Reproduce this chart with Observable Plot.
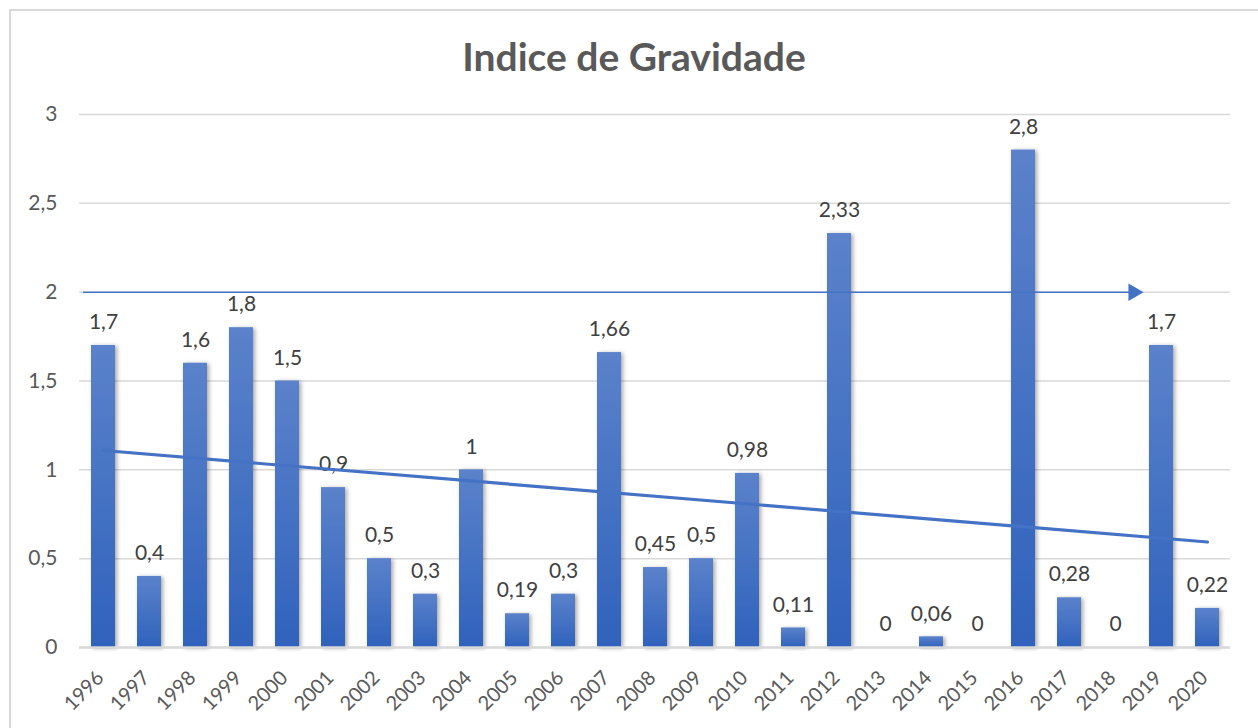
<!DOCTYPE html>
<html><head><meta charset="utf-8">
<script src="https://cdn.jsdelivr.net/npm/d3@7"></script>
<script src="https://cdn.jsdelivr.net/npm/@observablehq/plot@0.6"></script>
<style>
body{margin:0;background:#fff;}
#wrap{position:relative;width:1258px;height:728px;overflow:hidden;font-family:Lato, sans-serif;background:#fff;}
#frame{position:absolute;left:9px;top:9px;width:1300px;height:800px;border:2px solid #d9d9d9;box-sizing:border-box;}
#title{position:absolute;top:32px;left:0;width:1268px;text-align:center;font-size:39px;line-height:48px;font-weight:bold;color:#595959;}
#chart{position:absolute;left:0;top:0;}
</style></head><body>
<div id="wrap"><div id="frame"></div><div id="chart"></div><div id="title">Indice de Gravidade</div></div>
<script>
const years = ["1996","1997","1998","1999","2000","2001","2002","2003","2004","2005","2006","2007","2008","2009","2010","2011","2012","2013","2014","2015","2016","2017","2018","2019","2020"];
const values = [1.7,0.4,1.6,1.8,1.5,0.9,0.5,0.3,1,0.19,0.3,1.66,0.45,0.5,0.98,0.11,2.33,0,0.06,0,2.8,0.28,0,1.7,0.22];
const yTicks = [0,0.5,1,1.5,2,2.5,3];
const arrowLevel = 2;
const arrowFrom = "1996";
const arrowTo = "2018";

const fmt = v => String(v).replace(".", ",");
const data = years.map((y, i) => ({year: y, value: values[i]}));

// linear trendline (least squares over year index), like Excel's
const n = values.length;
const idx = values.map((_, i) => i + 1);
const mx = d3.mean(idx), my = d3.mean(values);
const slope = d3.sum(idx, (x, i) => (x - mx) * (values[i] - my)) / d3.sum(idx, x => (x - mx) ** 2);
const icpt = my - slope * mx;
const trend = [
  {year: years[0], value: icpt + slope * 1},
  {year: years[n - 1], value: icpt + slope * n}
];

const defs = () => {
  const d = d3.create("svg:defs");
  const g = d.append("linearGradient").attr("id", "barGrad").attr("x1", 0).attr("y1", 0).attr("x2", 0).attr("y2", 1);
  g.append("stop").attr("offset", "0%").attr("stop-color", "#5b82cb");
  g.append("stop").attr("offset", "100%").attr("stop-color", "#2f62bc");
  const f = d.append("filter").attr("id", "shadow").attr("x", "-50%").attr("y", "-10%").attr("width", "200%").attr("height", "130%");
  f.append("feDropShadow").attr("dx", 2).attr("dy", 1).attr("stdDeviation", 2).attr("flood-color", "#000").attr("flood-opacity", 0.35);
  return d.node();
};

const chart = Plot.plot({
  width: 1258,
  height: 728,
  marginTop: 114,
  marginBottom: 81,
  marginLeft: 79,
  marginRight: 28,
  style: {fontFamily: "Lato, sans-serif", fontSize: "21px", color: "#595959", background: "transparent"},
  x: {domain: years, paddingInner: 0.48, paddingOuter: 0.25, label: null},
  y: {domain: [0, 3], label: null},
  marks: [
    defs,
    Plot.gridY(yTicks, {stroke: "#d9d9d9", strokeOpacity: 1, strokeWidth: 1.5}),
    Plot.barY(data, {x: "year", y: "value", fill: "url(#barGrad)"}),
    Plot.ruleY([0], {stroke: "#d9d9d9", strokeWidth: 2.5}),
    Plot.axisY({ticks: yTicks, tickFormat: fmt, tickSize: 0, tickPadding: 22, fontSize: 21, fill: "#595959"}),
    Plot.axisX({tickSize: 0, tickRotate: -45, tickPadding: 20, fontSize: 20, fill: "#595959", dx: -3, dy: 7}),
    Plot.text(data, {x: "year", y: "value", text: d => fmt(d.value), dy: -23, fontSize: 21, fill: "#404040"}),
    Plot.line(trend, {x: "year", y: "value", stroke: "#4472c4", strokeWidth: 3.2}),
    Plot.arrow([{from: arrowFrom, to: arrowTo, y: arrowLevel}], {x1: "from", x2: "to", y1: "y", y2: "y", stroke: "#4472c4", strokeWidth: 1.5, headLength: 0, insetStart: -20, insetEnd: -22}),
    Plot.dot([{x: arrowTo, y: arrowLevel}], {x: "x", y: "y", symbol: "triangle", rotate: 90, r: 6.5, fill: "#4472c4", dx: 18})
  ]
});
d3.select(chart).selectAll("rect").filter(function(){ return this.getAttribute("fill") === "url(#barGrad)" || (this.parentNode && this.parentNode.getAttribute("fill") === "url(#barGrad)"); }).attr("filter", "url(#shadow)");
document.getElementById("chart").appendChild(chart);
</script>
</body></html>
